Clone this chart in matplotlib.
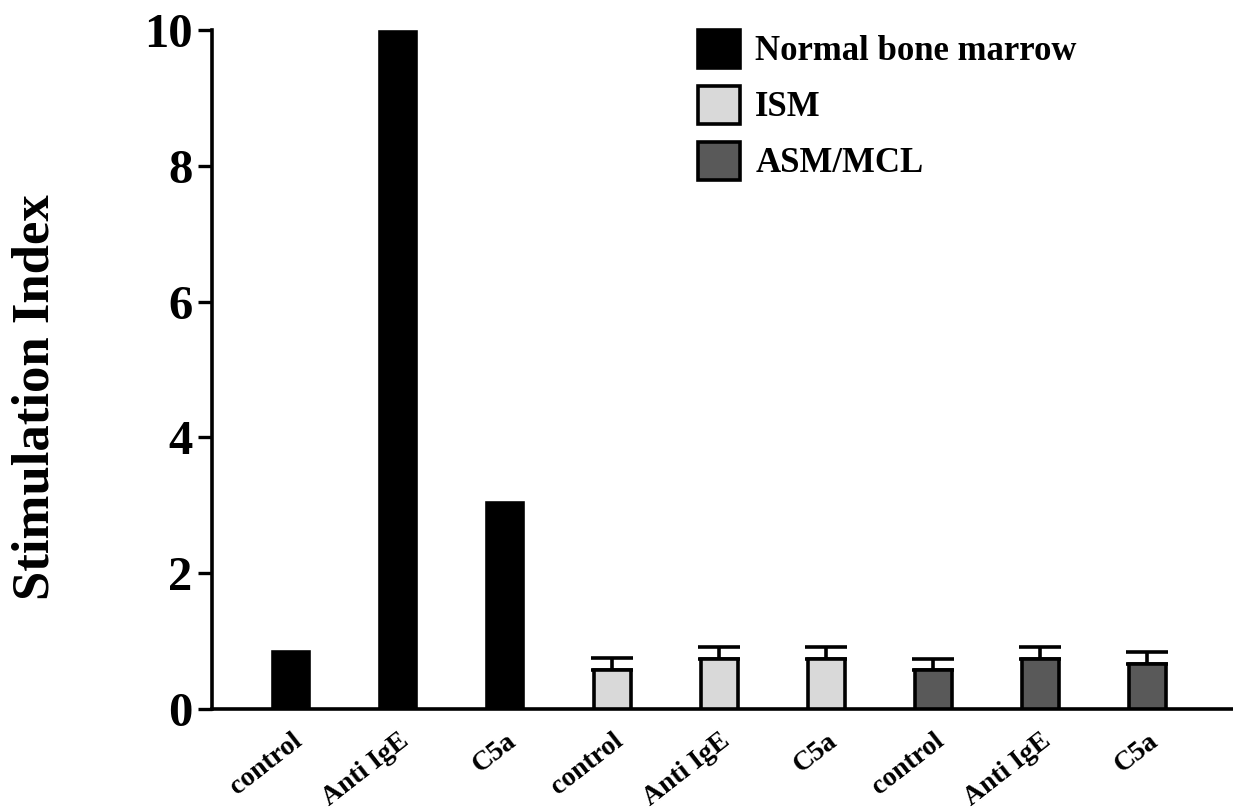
import matplotlib
matplotlib.use("Agg")
import matplotlib.pyplot as plt
from matplotlib.patches import Patch

categories = ["control", "Anti IgE", "C5a", "control", "Anti IgE", "C5a", "control", "Anti IgE", "C5a"]
groups = ["Normal bone marrow", "ISM", "ASM/MCL"]
nbm_values = [0.84, 9.97, 3.03]
ism_values = [0.58, 0.74, 0.74]
ism_errors = [0.17, 0.18, 0.18]
asm_values = [0.58, 0.74, 0.66]
asm_errors = [0.16, 0.18, 0.18]
colors = ["#000000", "#d9d9d9", "#595959"]

plt.rcParams['font.family'] = ['Liberation Serif', 'DejaVu Serif']
plt.rcParams['font.weight'] = 'bold'

fig = plt.figure(figsize=(12.33, 8.09), dpi=100)
ax = fig.add_axes([0.172, 0.1236, 0.828, 0.8394])

bw = 0.34
x_nbm = [0, 1, 2]
x_ism = [3, 4, 5]
x_asm = [6, 7, 8]
lw = 2.6
ekw = dict(ecolor='black', elinewidth=2.6, capsize=15, capthick=2.6, zorder=2)
ax.bar(x_nbm, nbm_values, width=bw, color=colors[0], edgecolor='black', linewidth=lw, zorder=3)
ax.bar(x_ism, ism_values, width=bw, color=colors[1], edgecolor='black', linewidth=lw, zorder=3,
       yerr=[[0]*3, ism_errors], error_kw=ekw)
ax.bar(x_asm, asm_values, width=bw, color=colors[2], edgecolor='black', linewidth=lw, zorder=3,
       yerr=[[0]*3, asm_errors], error_kw=ekw)

ax.set_xlim(-0.74, 8.80)
ax.set_ylim(0, 10)
ax.set_yticks([0, 2, 4, 6, 8, 10])
ax.tick_params(axis='y', length=10, width=2.4, labelsize=35, pad=4, direction='out')
for lab in ax.get_yticklabels():
    lab.set_fontweight('bold')
ax.set_xticks(range(len(categories)))
ax.set_xticklabels(categories, rotation=38, ha='right', va='top', rotation_mode='anchor',
                   fontsize=20, fontweight='bold')
ax.tick_params(axis='x', length=0, pad=14)

for s in ['top', 'right']:
    ax.spines[s].set_visible(False)
ax.spines['left'].set_linewidth(2.6)
ax.spines['bottom'].set_linewidth(2.6)

ax.set_ylabel("Stimulation Index", fontsize=38, fontweight='bold')
ax.yaxis.set_label_coords(-0.149, 0.46)

handles = [Patch(facecolor=c, edgecolor='black', linewidth=2.6) for c in colors]
ax.legend(handles, groups, loc='upper left', bbox_to_anchor=(0.476, 1.0), frameon=False,
          borderpad=0, borderaxespad=0,
          prop={'size': 25, 'weight': 'bold'}, handlelength=1.2, handleheight=1.3,
          handletextpad=0.45, labelspacing=0.5)

fig.savefig("out.png", dpi=100)
